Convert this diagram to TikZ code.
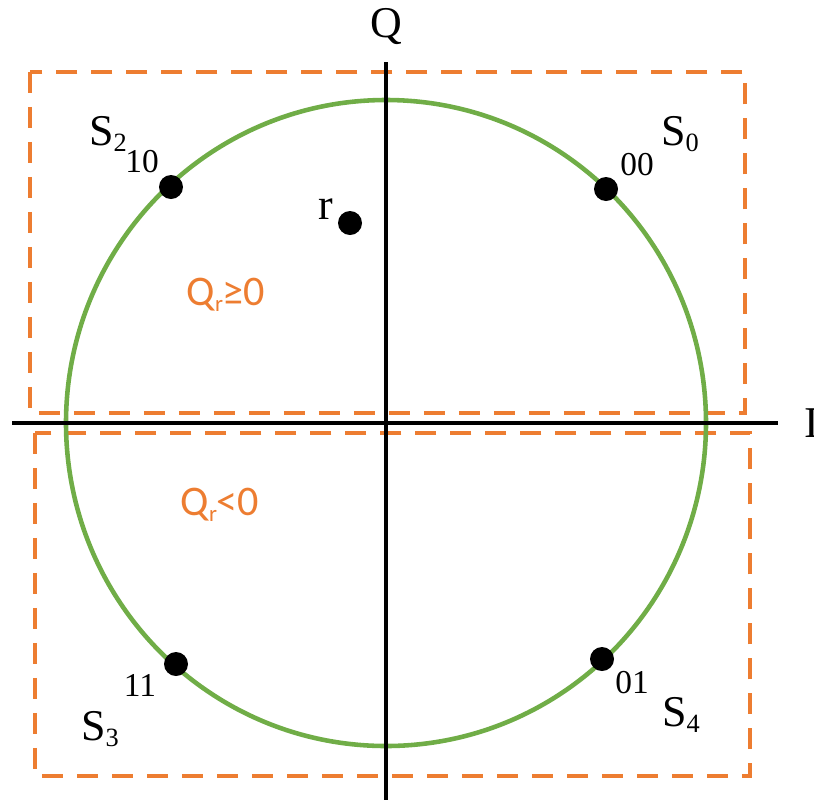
\documentclass[tikz,border=0pt]{standalone}
\usepackage{fontspec}
\setmainfont{Liberation Serif}
\newfontfamily\calfont{Carlito}
\definecolor{dorange}{HTML}{ED7D31}
\definecolor{cgreen}{HTML}{70AD47}
\newcommand{\lowsub}[1]{\raisebox{-0.12em}{\fontsize{15}{16}\selectfont #1}}
\newcommand{\rsub}[1]{\raisebox{-0.15em}{\fontsize{13}{14}\selectfont #1}}
\begin{document}
\begin{tikzpicture}[x=0.02cm,y=-0.02cm,
  axis/.style={line width=2.3pt,black},
  region/.style={draw=dorange,line width=1.9pt,dash pattern=on 0.42cm off 0.28cm},
  pt/.style={circle,fill=black,inner sep=0pt,minimum size=0.48cm},
  big/.style={font=\fontsize{25}{28}\selectfont,inner sep=0pt},
  code/.style={font=\fontsize{19}{22}\selectfont,inner sep=0pt},
  cond/.style={font=\calfont\fontsize{24}{28}\selectfont,text=dorange,inner sep=0pt}]
\useasboundingbox (0,0) rectangle (814,802);
% dashed decision regions
\draw[region] (30,72) rectangle (745,413);
\draw[region] (35,433) rectangle (750,776);
% circle
\draw[cgreen,line width=2.6pt] (386,423) ellipse [x radius=320,y radius=323];
% axes
\coordinate (xl) at (12,423);
\coordinate (xr) at (778,423);
\coordinate (yt) at (386,62);
\coordinate (yb) at (386,800);
\draw[axis] (xl) -- (xr);
\draw[axis] (yt) -- (yb);
\node[big,anchor=west] (I) at (804,423) {I};
\node[big] (Q) at (386,27) {Q};
% points
\node[pt] (s2) at (171,187) {};
\node[pt] (s0) at (606,189) {};
\node[pt] (r) at (350,223) {};
\node[pt] (s3) at (176,664) {};
\node[pt] (s4) at (602,659) {};
% labels
\node[big] (s2l) at (108,134) {S\lowsub{2}};
\node[code] (s2c) at (142,162) {10};
\node[big] (s0l) at (680,134) {S\lowsub{0}};
\node[code] (s0c) at (637,165) {00};
\node[big] (rl) at (326,209) {r};
\node[code] (s3c) at (140,685) {11};
\node[big] (s3l) at (100,729) {S\lowsub{3}};
\node[code] (s4c) at (632,683) {01};
\node[big] (s4l) at (681,715) {S\lowsub{4}};
\node[cond] (qp) at (226,295) {Q\rsub{r}≥0};
\node[cond] (qn) at (220,505) {Q\rsub{r}<0};
\end{tikzpicture}
\end{document}
